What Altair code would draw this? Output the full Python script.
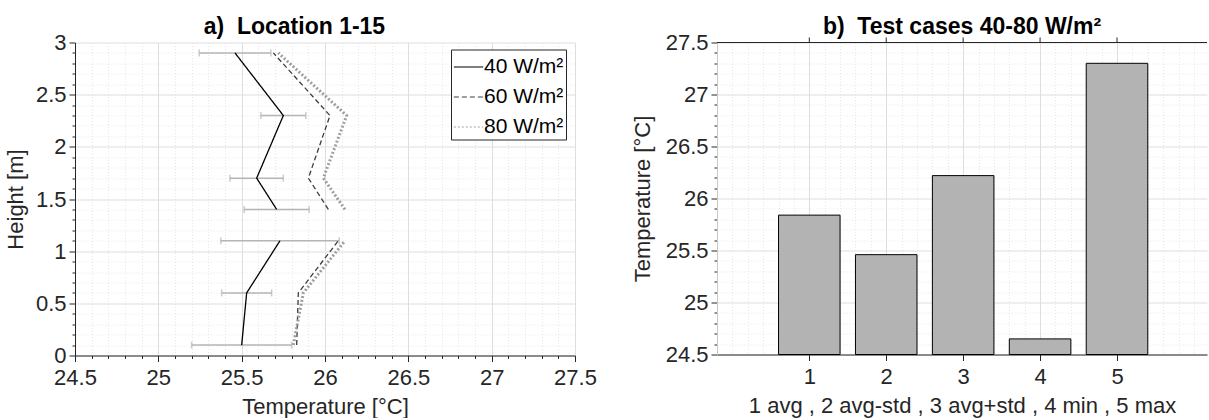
import altair as alt
import pandas as pd
import numpy as np

# ---------------- data ----------------
heights = [0.1, 0.6, 1.1, 1.4, 1.7, 2.3, 2.9]
segments = ["lower", "lower", "lower", "upper", "upper", "upper", "upper"]
t40 = [25.50, 25.53, 25.73, 25.71, 25.59, 25.75, 25.46]
std40 = [0.30, 0.15, 0.355, 0.195, 0.16, 0.135, 0.215]
t60 = [25.83, 25.84, 26.08, 26.02, 25.90, 26.03, 25.69]
t80 = [25.81, 25.87, 26.12, 26.12, 25.99, 26.13, 25.72]
series_labels = ["40 W/m²", "60 W/m²", "80 W/m²"]

case_ids = [1, 2, 3, 4, 5]
case_temps = [25.84, 25.46, 26.22, 24.65, 27.30]

xa_ticks = [round(v, 1) for v in np.arange(24.5, 27.5001, 0.1)]
ya_ticks = [round(v, 1) for v in np.arange(0, 3.0001, 0.1)]
yb_ticks = [round(v, 1) for v in np.arange(24.5, 27.5001, 0.1)]
xb_ticks = [round(v, 1) for v in np.arange(0, 6.0001, 0.2)]

TXT = "#262626"
MAJ_GRID = "#dedede"
MIN_GRID = "#e6e6e6"
FS = 22
TFS = 23
WA, HA = 500, 313
WB, HB = 490, 312

# ---------------- tables ----------------
rows = []
for lab, vals in zip(series_labels, [t40, t60, t80]):
    for h, s, v in zip(heights, segments, vals):
        rows.append({"series": lab, "segment": s, "height": h, "temp": v})
line_df = pd.DataFrame(rows)

err_df = pd.DataFrame({
    "height": heights,
    "lo": [m - s for m, s in zip(t40, std40)],
    "hi": [m + s for m, s in zip(t40, std40)],
})
cap_df = pd.DataFrame({
    "height": heights + heights,
    "x": list(err_df["lo"]) + list(err_df["hi"]),
})

bar_df = pd.DataFrame({"case": case_ids, "temp": case_temps})
bar_df["x0"] = bar_df["case"] - 0.4
bar_df["x1"] = bar_df["case"] + 0.4


def is_half(expr="datum.value"):
    return f"abs({expr}*2 - round({expr}*2)) < 0.001"


def axis(values, major_test, title_pad, label_pad=3, minor_ticks=True, domain_color=TXT):
    return alt.Axis(
        values=values,
        labelExpr=f"({major_test}) ? toString(round(datum.value*10)/10) : ''",
        grid=True,
        gridColor={"condition": {"test": major_test, "value": MAJ_GRID}, "value": MIN_GRID},
        gridDash={"condition": {"test": major_test, "value": []}, "value": [1, 2]},
        gridWidth=1,
        tickSize={"condition": {"test": major_test, "value": 6},
                  "value": 3 if minor_ticks else 0},
        tickColor=TXT,
        tickWidth=1,
        domainColor=domain_color,
        domainWidth=1,
        labelFlush=False,
        labelOverlap=False,
        labelPadding=label_pad,
        titlePadding=title_pad,
    )


# ---------------- panel a ----------------
xa_scale = alt.Scale(domain=[24.5, 27.5], nice=False, zero=False)
ya_scale = alt.Scale(domain=[0, 3], nice=False, zero=False)
xa_axis = axis(xa_ticks, is_half(), 8, label_pad=6)
ya_axis = axis(ya_ticks, is_half(), 8)

xa = alt.X("temp:Q", scale=xa_scale, axis=xa_axis, title="Temperature [°C]")
ya = alt.Y("height:Q", scale=ya_scale, axis=ya_axis, title="Height [m]")

err_rules = alt.Chart(err_df).mark_rule(color="#b5b5b5", strokeWidth=1.5).encode(
    x=alt.X("lo:Q", scale=xa_scale, axis=xa_axis, title="Temperature [°C]"),
    x2="hi:Q",
    y=ya,
)
err_caps = alt.Chart(cap_df).mark_tick(color="#b5b5b5", orient="vertical", size=7, thickness=1.5).encode(
    x=alt.X("x:Q", scale=xa_scale, axis=xa_axis, title="Temperature [°C]"),
    y=ya,
)

leg = alt.Legend(
    title=None, orient="none", legendX=376, legendY=7, symbolType="stroke", symbolSize=860,
    labelFontSize=21, labelColor="#000000", strokeColor="#262626", fillColor="white",
    padding=2, rowPadding=4, labelOffset=0, symbolStrokeWidth=1.2,
)
lines = alt.Chart(line_df).mark_line().encode(
    x=xa,
    y=ya,
    color=alt.Color("series:N", sort=series_labels,
                    scale=alt.Scale(domain=series_labels, range=["#000000", "#3c3c3c", "#9e9e9e"]), legend=leg),
    strokeDash=alt.StrokeDash("series:N", sort=series_labels,
                              scale=alt.Scale(domain=series_labels, range=[[1, 0], [5, 3], [2, 2]]), legend=leg),
    strokeWidth=alt.condition(f"datum.series == '{series_labels[2]}'", alt.value(3), alt.value(1.3)),
    detail="segment:N",
    order="height:Q",
)

panel_a = alt.layer(err_rules, err_caps, lines).properties(
    width=WA, height=HA,
    title=alt.TitleParams("a)\u00a0 Location 1-15", fontSize=TFS, fontWeight="bold", color="#000000",
                          offset=-7.5, frame="bounds", dx=-6),
)

# ---------------- panel b ----------------
xb_scale = alt.Scale(domain=[-0.2, 6.17], nice=False, zero=False)
yb_scale = alt.Scale(domain=[24.5, 27.5], nice=False, zero=False)
xb_major_test = "datum.value >= 1 && datum.value <= 5 && abs(datum.value - round(datum.value)) < 0.001"
xb_axis = axis(xb_ticks, xb_major_test, 8, label_pad=6, minor_ticks=False)
yb_axis = axis(yb_ticks, is_half(), 11, domain_color="#c8c8c8")

xb_title = "1 avg , 2 avg-std , 3 avg+std , 4 min , 5 max"
yb = alt.Y("temp:Q", scale=yb_scale, axis=yb_axis, title="Temperature [°C]")

bars = alt.Chart(bar_df).mark_rect(fill="#b3b3b3", stroke="#000000", strokeWidth=1).encode(
    x=alt.X("x0:Q", scale=xb_scale, axis=xb_axis, title=xb_title),
    x2="x1:Q",
    y=yb,
    y2=alt.datum(24.5),
)
# top box line with outward ticks at the case positions
top_line = alt.Chart(bar_df).mark_rule(color=TXT, strokeWidth=1).encode(
    x=alt.value(0), x2=alt.value(WB), y=alt.value(0)
)
top_ticks = alt.Chart(bar_df).mark_rule(color=TXT, strokeWidth=1).encode(
    x=alt.X("case:Q", scale=xb_scale, axis=xb_axis, title=xb_title),
    y=alt.value(-5), y2=alt.value(0),
)

panel_b = alt.layer(bars, top_line, top_ticks).properties(
    width=WB, height=HB,
    title=alt.TitleParams("b)\u00a0 Test cases 40-80 W/m²", fontSize=TFS, fontWeight="bold", color="#000000",
                          offset=-7.5),
)

chart = alt.hconcat(panel_a, panel_b, spacing=34).properties(
    padding={"left": 4, "top": 15.5, "right": 0, "bottom": 0},
).configure(
    font="Liberation Sans",
).configure_axis(
    labelFontSize=FS, titleFontSize=FS, labelColor=TXT, titleColor=TXT,
    titleFontWeight="normal", labelFont="Liberation Sans", titleFont="Liberation Sans",
).configure_view(
    stroke=None,
).configure_title(
    font="Liberation Sans", anchor="middle",
)

chart.save("out.html", embed_options={"renderer": "svg", "actions": False})
